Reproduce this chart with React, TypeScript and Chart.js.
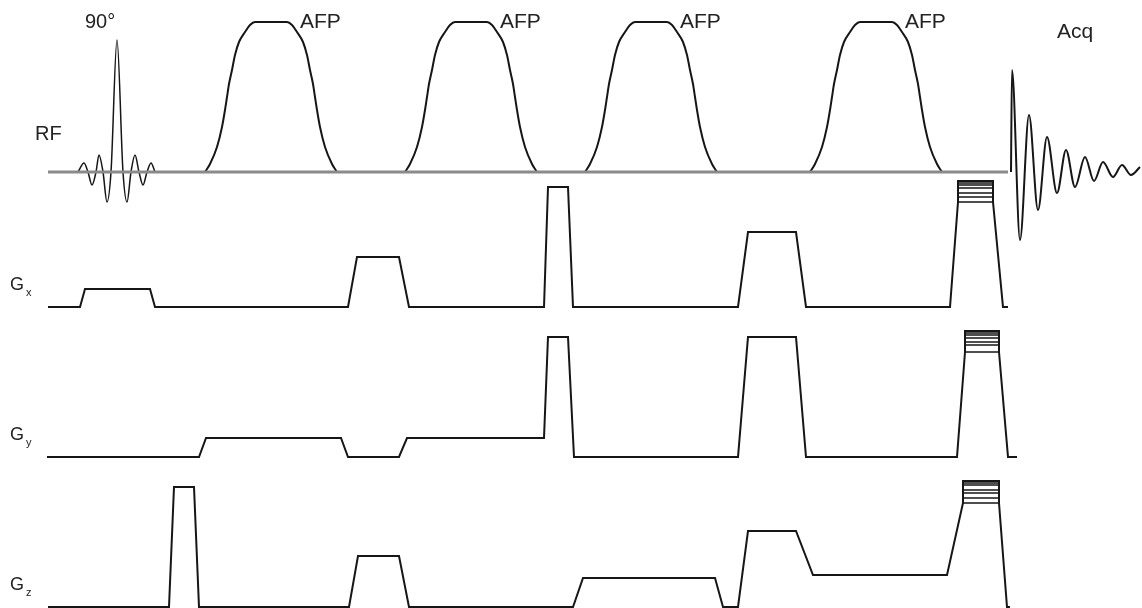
import React, { useEffect, useRef } from "react";
import { Chart, registerables } from "chart.js";

Chart.register(...registerables);

const W = 1142;
const H = 608;

// ---------- RF channel (time, amplitude) ----------
const RF_AXIS_T = [48, 1008];
const RF_SINC_AXIS_T = [48, 183];
const SINC_T = [78, 84, 88, 92, 96, 99, 103, 107, 111, 117, 123, 127, 131, 135, 139, 143, 147, 151, 155];
const SINC_A = [0, 9, 0, -13, 0, 17, 0, -30, 0, 132, 0, -30, 0, 17, 0, -13, 0, 9, 0];

const AFP_STARTS = [205, 405, 585, 810];
const AFP_DT = [0, 5, 12, 17, 20, 22, 24, 27, 30, 34, 40, 45, 50, 82, 87, 92, 98, 102, 105, 108, 110, 112, 115, 120, 127, 132];
const AFP_A = [0, 8, 25, 45, 62, 75, 88, 102, 117, 130, 140, 147, 150, 150, 147, 140, 130, 117, 102, 88, 75, 62, 45, 25, 8, 0];

const FID_T = [1011, 1012, 1020, 1029, 1038, 1047, 1057, 1066, 1075, 1085, 1094, 1103, 1113, 1122, 1131, 1140];
const FID_A = [0, 102, -68, 57, -38, 35, -21, 22, -15, 15, -9, 10, -5, 7, -3, 5];

// ---------- Gradient channels ----------
const GX_T = [48, 80, 85, 150, 155, 348, 357, 399, 409, 544, 548, 568, 573, 738, 748, 796, 806, 950, 958, 958, 993, 993, 1003, 1008];
const GX_A = [0, 0, 18, 18, 0, 0, 50, 50, 0, 0, 120, 120, 0, 0, 75, 75, 0, 0, 105, 126, 126, 105, 0, 0];
const GX_PE_T = [958, 993];
const GX_PE_A = [126, 124, 122, 119, 114, 110, 105];

const GY_T = [47, 199, 206, 341, 348, 399, 407, 544, 548, 568, 574, 738, 748, 796, 806, 957, 965, 965, 999, 999, 1008, 1017];
const GY_A = [0, 0, 19, 19, 0, 0, 19, 19, 120, 120, 0, 0, 120, 120, 0, 0, 105, 126, 126, 105, 0, 0];
const GY_PE_T = [965, 999];
const GY_PE_A = [126, 124, 122, 119, 115, 112, 105];

const GZ_T = [48, 169, 174, 194, 199, 349, 358, 399, 409, 573, 583, 715, 723, 738, 748, 796, 813, 947, 963, 963, 999, 999, 1007, 1010];
const GZ_A = [0, 0, 120, 120, 0, 0, 51, 51, 0, 0, 29, 29, 0, 0, 76, 76, 32, 32, 104, 126, 126, 104, 0, 0];
const GZ_PE_T = [963, 999];
const GZ_PE_A = [126, 124, 122, 117, 114, 109, 104];

// ---------- layout (pixel baselines of each channel row) ----------
const ROW_BASE = { rf: 172, gx: 307, gy: 457, gz: 607 };

const INK = "#161616";
const GREY = "#8a8a8a";
const FONT = '"Liberation Sans", Arial, Helvetica, sans-serif';

const pts = (t: number[], a: number[], dt = 0) => t.map((v, i) => ({ x: v + dt, y: a[i] }));

const peLines = (t: number[], levels: number[]) => {
  const out: { x: number; y: number | null }[] = [];
  levels.forEach((lv) => {
    out.push({ x: t[0], y: lv }, { x: t[1], y: lv }, { x: t[1], y: null });
  });
  return out;
};

const ds = (data: any[], axis: string, extra: any = {}) => ({
  type: "line",
  data,
  yAxisID: axis,
  borderColor: INK,
  borderWidth: 2,
  pointRadius: 0,
  fill: false,
  tension: 0,
  spanGaps: false,
  ...extra,
});

const labelPlugin = {
  id: "seqLabels",
  afterDatasetsDraw(chart: any) {
    const { ctx } = chart;
    const xs = chart.scales.x;
    ctx.save();
    ctx.fillStyle = "#222";
    ctx.textBaseline = "alphabetic";
    ctx.textAlign = "left";

    ctx.font = `20px ${FONT}`;
    ctx.fillText("90°", 85, 28);

    ctx.font = `21px ${FONT}`;
    AFP_STARTS.forEach((s) => {
      ctx.fillText("AFP", xs.getPixelForValue(s + 95), 28);
    });

    ctx.font = `21px ${FONT}`;
    ctx.fillText("Acq", 1057, 38);

    ctx.font = `20px ${FONT}`;
    ctx.fillText("RF", 35, 140);

    const g = (sub: string, base: number) => {
      ctx.font = `18px ${FONT}`;
      ctx.fillText("G", 10, base);
      ctx.font = `11px ${FONT}`;
      ctx.fillText(sub, 26, base + 6);
    };
    g("x", 290);
    g("y", 440);
    g("z", 590);
    ctx.restore();
  },
};

export default function App() {
  const ref = useRef<HTMLCanvasElement | null>(null);

  useEffect(() => {
    document.body.style.margin = "0";
    document.body.style.background = "#ffffff";
    const canvas = ref.current;
    if (!canvas) return;

    const axis = (base: number) => ({
      type: "linear",
      display: false,
      bounds: "data",
      min: -(H - base),
      max: base,
    });

    const datasets: any[] = [
      ds(pts(RF_AXIS_T, [0, 0]), "yRF", { borderColor: GREY, borderWidth: 3 }),
      ds(pts(RF_SINC_AXIS_T, [0, 0]), "yRF", { borderWidth: 1.5 }),
      ds(pts(SINC_T, SINC_A), "yRF", { borderWidth: 1.5, cubicInterpolationMode: "monotone" }),
      ...AFP_STARTS.map((s) =>
        ds(pts(AFP_DT, AFP_A, s), "yRF", { cubicInterpolationMode: "monotone" })
      ),
      ds(pts(FID_T, FID_A), "yRF", { cubicInterpolationMode: "monotone" }),
      ds(pts(GX_T, GX_A), "yGx"),
      ds(peLines(GX_PE_T, GX_PE_A), "yGx", { borderWidth: 1.5 }),
      ds(pts(GY_T, GY_A), "yGy"),
      ds(peLines(GY_PE_T, GY_PE_A), "yGy", { borderWidth: 1.5 }),
      ds(pts(GZ_T, GZ_A), "yGz"),
      ds(peLines(GZ_PE_T, GZ_PE_A), "yGz", { borderWidth: 1.5 }),
    ];

    const chart = new Chart(canvas, {
      type: "line",
      data: { datasets },
      options: {
        animation: false,
        responsive: false,
        maintainAspectRatio: false,
        events: [],
        layout: { padding: 0 },
        plugins: {
          legend: { display: false },
          tooltip: { enabled: false },
          title: { display: false },
        },
        scales: {
          x: { type: "linear", display: false, bounds: "data", min: 0, max: W },
          yRF: axis(ROW_BASE.rf),
          yGx: axis(ROW_BASE.gx),
          yGy: axis(ROW_BASE.gy),
          yGz: axis(ROW_BASE.gz),
        },
      } as any,
      plugins: [labelPlugin],
    } as any);

    return () => chart.destroy();
  }, []);

  return (
    <div style={{ width: W, height: H, position: "relative", overflow: "hidden", background: "#fff" }}>
      <canvas ref={ref} width={W} height={H} style={{ display: "block" }} />
    </div>
  );
}
